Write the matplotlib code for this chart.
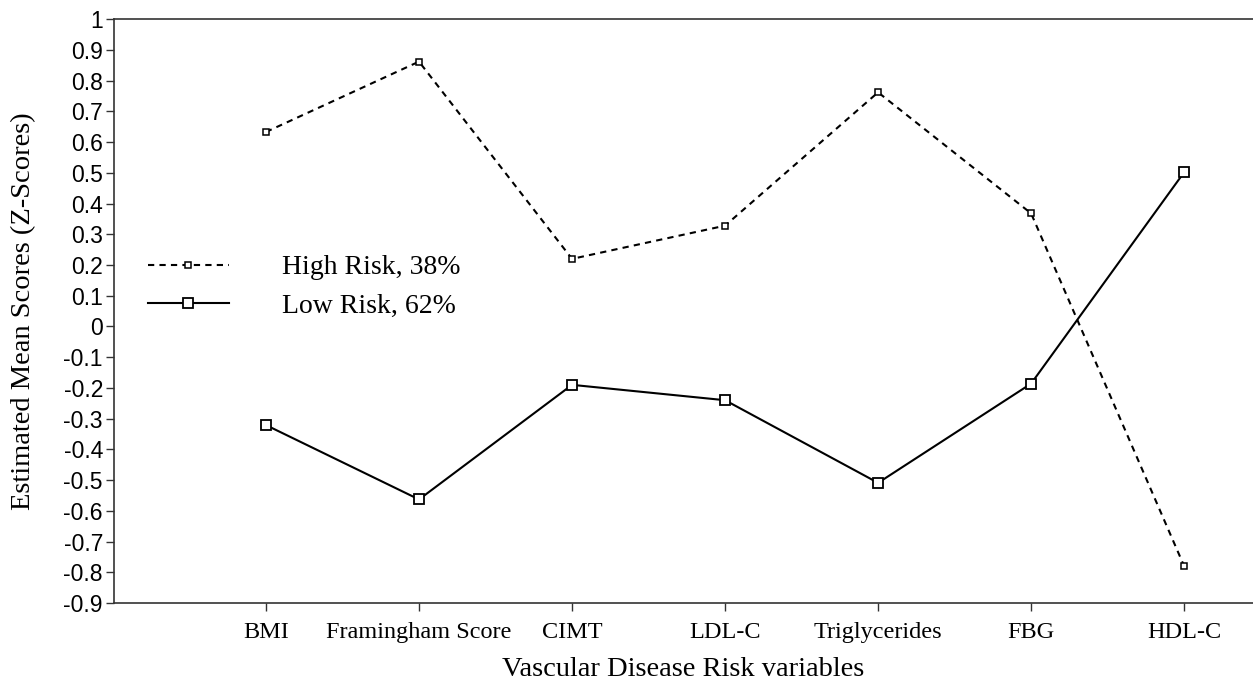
import numpy as np
import matplotlib
matplotlib.use("Agg")
import matplotlib.pyplot as plt

categories = ["BMI", "Framingham Score", "CIMT", "LDL-C", "Triglycerides", "FBG", "HDL-C"]
high_risk = [0.633, 0.862, 0.22, 0.328, 0.762, 0.368, -0.78]
low_risk = [-0.321, -0.563, -0.19, -0.24, -0.509, -0.186, 0.502]
yticks = np.round(np.arange(-0.9, 1.01, 0.1), 1)

serif = ["Liberation Serif", "DejaVu Serif"]
sans = ["Liberation Sans", "DejaVu Sans"]

fig = plt.figure(figsize=(12.53, 6.86), dpi=100)
ax = fig.add_axes([0.091, 0.121, 0.909, 0.851])

x = np.arange(len(categories))
ax.plot(x, high_risk, color="black", linestyle=(0, (3, 2.5)), linewidth=1.5,
        marker="s", markersize=4.5, markerfacecolor="white", markeredgecolor="black",
        markeredgewidth=1.1, label="High Risk, 38%")
ax.plot(x, low_risk, color="black", linestyle="-", linewidth=1.5,
        marker="s", markersize=6.5, markerfacecolor="white", markeredgecolor="black",
        markeredgewidth=1.3, label="Low Risk, 62%")

ax.set_xlim(-0.993, 6.45)
ax.set_ylim(-0.9, 1.0)
ax.set_xticks(x)
ax.set_xticklabels(categories, fontfamily=serif, fontsize=17.5)
ax.set_yticks(yticks)
ax.set_yticklabels([("%g" % v) if v != 0 else "0" for v in yticks], fontfamily=sans, fontsize=16.5)
ax.tick_params(axis="both", direction="out", length=6, width=1, color="#333333")
ax.tick_params(axis="x", pad=8)
ax.tick_params(axis="y", pad=2)

for s in ["left", "bottom", "top"]:
    ax.spines[s].set_linewidth(1.2)
    ax.spines[s].set_color("#333333")
ax.spines["right"].set_visible(False)

ax.set_xlabel("Vascular Disease Risk variables", fontfamily=serif, fontsize=20.5)
ax.set_ylabel("Estimated Mean Scores (Z-Scores)", fontfamily=serif, fontsize=20.5)
ax.xaxis.set_label_coords(0.5, -0.093)
ax.yaxis.set_label_coords(-0.068, 0.5)

leg = ax.legend(loc="center left", bbox_to_anchor=(123 / 1253, 1 - 287 / 686),
                bbox_transform=fig.transFigure, frameon=False,
                handlelength=2.9, handletextpad=1.94, labelspacing=0.47,
                prop={"family": serif, "size": 20})

fig.savefig("out.png", dpi=100)
